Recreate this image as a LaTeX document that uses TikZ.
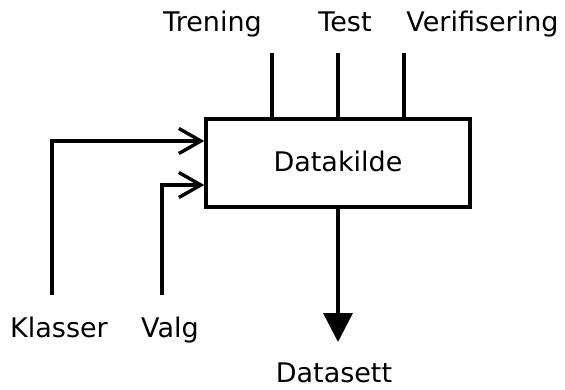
\documentclass[tikz,border=0pt]{standalone}
\usepackage{fontspec}
\setmainfont{DejaVu Sans}
\usetikzlibrary{arrows.meta}
\begin{document}
\begin{tikzpicture}[x=1pt,y=-1pt,
  lbl/.style={font=\fontsize{27}{31}\selectfont, inner sep=0pt, anchor=base},
  wire/.style={line width=3.4pt},
  inarrow/.style={wire, -{Straight Barb[length=22pt,width=25pt,line width=3.4pt]}},
  outarrow/.style={wire, -{Triangle[length=29pt,width=29pt]}},
  srcbox/.style={draw, line width=3.4pt, minimum width=264pt, minimum height=88pt, inner sep=0pt}]
  \useasboundingbox (0,0) rectangle (565,390);

  % central block
  \node[srcbox] (src) at (338,163) {};
  \node[lbl] (srctxt) at (338,172) {Datakilde};

  % top labels and their stubs
  \node[lbl] (trening) at (212.5,31.5) {Trening};
  \node[lbl] (test) at (345,31.5) {Test};
  \node[lbl] (verif) at (482.5,31.5) {Verifisering};
  \coordinate (t1) at (272,53);
  \coordinate (t2) at (338,53);
  \coordinate (t3) at (404,53);
  \draw[wire] (t1) -- (t1 |- src.north);
  \draw[wire] (t2) -- (t2 |- src.north);
  \draw[wire] (t3) -- (t3 |- src.north);

  % inputs on the left
  \node[lbl] (klasser) at (59,337) {Klasser};
  \node[lbl] (valg) at (170,337) {Valg};
  \coordinate (k0) at (52,295);
  \coordinate (v0) at (162,295);
  \coordinate (kin) at (src.west |- 0,141);
  \coordinate (vin) at (src.west |- 0,185);
  \draw[inarrow] (k0) |- (kin);
  \draw[inarrow] (v0) |- (vin);

  % output
  \node[lbl] (out) at (334,382) {Datasett};
  \coordinate (oend) at (338,342);
  \draw[outarrow] (src.south) -- (oend);
\end{tikzpicture}
\end{document}
